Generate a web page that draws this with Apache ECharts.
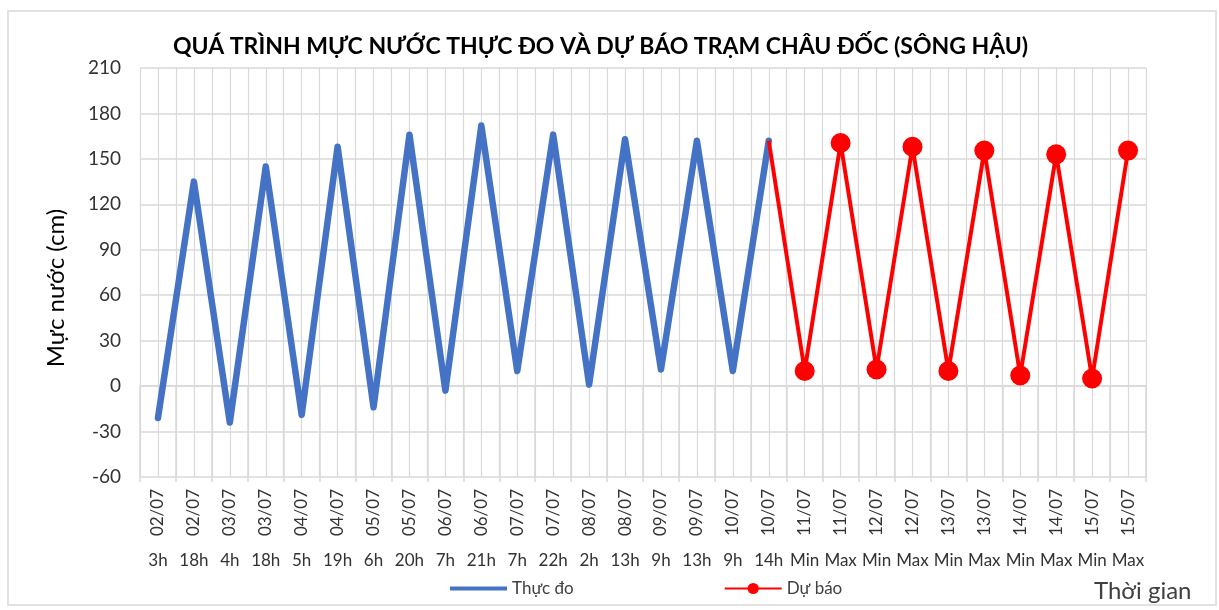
<!DOCTYPE html>
<html>
<head>
<meta charset="utf-8">
<script src="https://cdn.jsdelivr.net/npm/echarts@6/dist/echarts.min.js"></script>
<style>
  html, body { margin: 0; padding: 0; background: #fff; }
  #chart { width: 1219px; height: 610px; }
</style>
</head>
<body>
<div id="chart"></div>
<script>
// Ngày / giờ đo trên trục hoành (hai tầng nhãn)
const dateLabels = [
  "02/07", "02/07", "03/07", "03/07", "04/07", "04/07", "05/07", "05/07",
  "06/07", "06/07", "07/07", "07/07", "08/07", "08/07", "09/07", "09/07",
  "10/07", "10/07", "11/07", "11/07", "12/07", "12/07", "13/07", "13/07",
  "14/07", "14/07", "15/07", "15/07",
];
const hourLabels = [
  "3h", "18h", "4h", "18h", "5h", "19h", "6h", "20h",
  "7h", "21h", "7h", "22h", "2h", "13h", "9h", "13h",
  "9h", "14h", "Min", "Max", "Min", "Max", "Min", "Max",
  "Min", "Max", "Min", "Max",
];

// Mực nước thực đo (cm)
const observed = [
  -21, 135, -24, 145, -19, 158, -14, 166,
  -3, 172, 10, 166, 1, 163, 11, 162,
  10, 162,
];

// Mực nước dự báo (cm), nối tiếp từ điểm đo cuối
const forecastStart = 162;
const forecast = [10, 160.5, 11, 158, 10, 155.5, 7, 153, 5, 155.5];

const yTicks = { min: -60, max: 210, interval: 30 };

const FONT = "Lato";

const forecastData = observed.slice(0, -1).map(() => null)
  .concat([{ value: forecastStart, symbol: "none" }])
  .concat(forecast);

const chart = echarts.init(document.getElementById("chart"));

chart.setOption({
  animation: false,
  textStyle: { fontFamily: FONT },
  title: {
    text: "QUÁ TRÌNH MỰC NƯỚC THỰC ĐO VÀ DỰ BÁO TRẠM CHÂU ĐỐC (SÔNG HẬU)",
    left: 168,
    top: 30,
    textStyle: { fontFamily: FONT, fontSize: 23, fontWeight: "bold", color: "#000" },
  },
  legend: {
    bottom: 8,
    left: 445,
    itemGap: 150,
    itemWidth: 57,
    itemHeight: 14,
    textStyle: { fontFamily: FONT, fontSize: 17, color: "#404040" },
    data: [
      { name: "Thực đo", icon: "path://M0,5 L57,5 L57,9 L0,9 Z" },
      { name: "Dự báo" },
    ],
  },
  graphic: [
    {
      type: "rect",
      shape: { x: 8, y: 11, width: 1208, height: 594 },
      style: { fill: "none", stroke: "#d9d9d9", lineWidth: 1.5 },
      silent: true,
    },
    {
      type: "text",
      left: 1094,
      top: 579,
      style: { text: "Thời gian", fontFamily: FONT, fontSize: 24, fill: "#404040" },
    },
    {
      type: "text",
      x: 56,
      y: 288,
      rotation: Math.PI / 2,
      style: {
        text: "Mực nước (cm)",
        fontFamily: FONT,
        fontSize: 24,
        fill: "#000",
        align: "center",
        verticalAlign: "middle",
      },
    },
  ],
  grid: { left: 140, right: 73, top: 68, bottom: 133 },
  xAxis: [
    {
      type: "category",
      data: dateLabels,
      boundaryGap: true,
      axisLine: { lineStyle: { color: "#d9d9d9", width: 1.5 } },
      axisTick: { show: true, interval: 0, length: 96, lineStyle: { color: "#d9d9d9", width: 1.5 } },
      axisLabel: {
        interval: 0,
        rotate: 90,
        margin: 12,
        fontSize: 17,
        color: "#333",
        fontFamily: FONT,
      },
      splitLine: { show: false },
    },
    {
      type: "category",
      data: hourLabels,
      position: "bottom",
      boundaryGap: true,
      axisLine: { show: false },
      axisTick: { show: false },
      axisLabel: { interval: 0, margin: 75, fontSize: 17, color: "#333", fontFamily: FONT },
      splitLine: { show: false },
    },
    {
      // lưới dọc theo nửa khoảng ngày
      type: "category",
      data: dateLabels.concat(dateLabels).map(() => ""),
      position: "bottom",
      boundaryGap: true,
      axisLine: { show: false },
      axisTick: { show: false },
      axisLabel: { show: false },
      splitLine: { show: true, interval: 0, lineStyle: { color: "#d9d9d9", width: 1.2 } },
    },
  ],
  yAxis: {
    type: "value",
    min: yTicks.min,
    max: yTicks.max,
    interval: yTicks.interval,
    axisLine: { show: false },
    axisTick: { show: false },
    axisLabel: { fontSize: 19, color: "#333", margin: 19, fontFamily: FONT },
    splitLine: { lineStyle: { color: "#d9d9d9", width: 1.5 } },
  },
  series: [
    {
      name: "Thực đo",
      type: "line",
      xAxisIndex: 0,
      data: observed,
      showSymbol: false,
      symbol: "none",
      lineStyle: { color: "#4472C4", width: 6.5, cap: "round", join: "round" },
      itemStyle: { color: "#4472C4" },
      z: 3,
    },
    {
      name: "Dự báo",
      type: "line",
      xAxisIndex: 0,
      data: forecastData,
      symbol: "circle",
      symbolSize: 20,
      lineStyle: { color: "#FF0000", width: 4, join: "round" },
      itemStyle: { color: "#FF0000" },
      z: 4,
    },
  ],
});
</script>
</body>
</html>
